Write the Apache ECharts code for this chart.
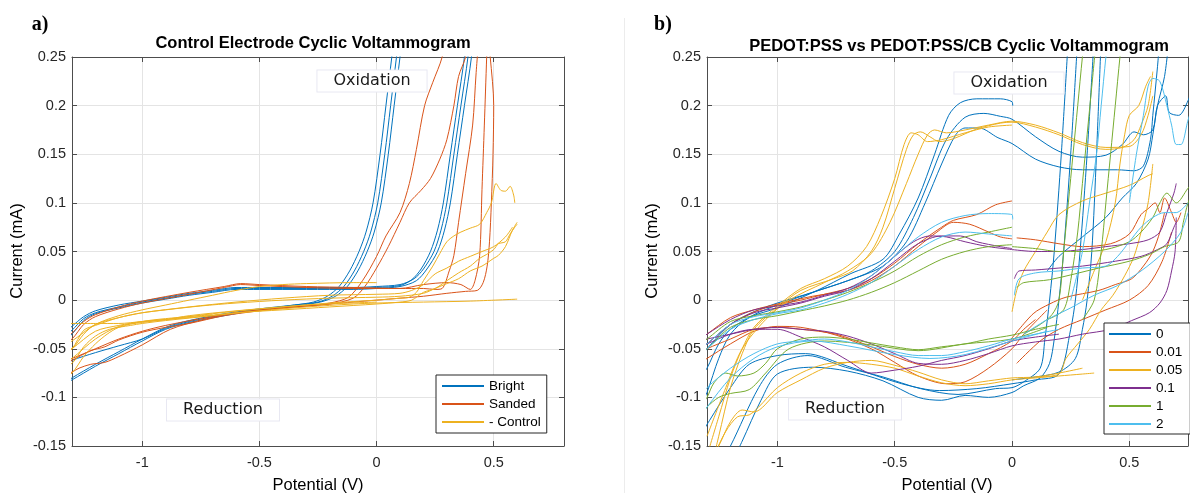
<!DOCTYPE html>
<html><head><meta charset="utf-8">
<script src="https://cdn.jsdelivr.net/npm/echarts@6/dist/echarts.min.js"></script>
<style>html,body{margin:0;padding:0;background:#fff}#c{width:1190px;height:493px}</style>
</head><body><div id="c"></div>
<script>
// ---------- ticks ----------
const xTicks = [-1, -0.5, 0, 0.5];
const yMin = -0.15, yMax = 0.25, yStep = 0.05;
const xRangeA = [-1.3, 0.8];
const xRangeB = [-1.3, 0.75];

// ---------- Panel a) : Control Electrode ----------
const namesA = ['Bright', 'Sanded', '- Control'];
const colorsA = ['#0072BD', '#D95319', '#EDB120'];

const brightTraces = [
 [0.1,0.28, 0.085,0.25, 0.06,0.2, 0.035,0.15, 0.005,0.1, -0.025,0.07, -0.055,0.05, -0.095,0.03, -0.14,0.014, -0.19,0.004, -0.25,-0.002, -0.35,-0.005, -0.5,-0.009, -0.65,-0.014, -0.8,-0.021, -0.9,-0.028, -1.0,-0.04, -1.1,-0.053, -1.2,-0.066, -1.3,-0.08, -1.36,-0.09, -1.36,-0.045, -1.3,-0.031, -1.25,-0.019, -1.2,-0.013, -1.1,-0.007, -1.0,-0.002, -0.9,0.002, -0.8,0.006, -0.7,0.009, -0.6,0.012, -0.5,0.012, -0.3,0.012, -0.1,0.012, 0.0,0.013, 0.1,0.015, 0.15,0.021, 0.19,0.032, 0.23,0.05, 0.26,0.072, 0.285,0.1, 0.315,0.15, 0.345,0.2, 0.375,0.25, 0.385,0.28],
 [0.08,0.28, 0.065,0.25, 0.04,0.2, 0.015,0.15, -0.015,0.1, -0.045,0.07, -0.075,0.05, -0.115,0.03, -0.16,0.014, -0.21,0.004, -0.27,-0.002, -0.35,-0.005, -0.5,-0.01, -0.65,-0.015, -0.8,-0.022, -0.9,-0.029, -1.0,-0.04, -1.1,-0.047, -1.2,-0.054, -1.3,-0.062, -1.36,-0.07, -1.36,-0.04, -1.3,-0.027, -1.25,-0.017, -1.2,-0.011, -1.1,-0.005, -1.0,-0.001, -0.9,0.003, -0.8,0.007, -0.7,0.01, -0.6,0.013, -0.5,0.013, -0.3,0.013, -0.1,0.013, 0.0,0.014, 0.1,0.016, 0.16,0.022, 0.2,0.032, 0.245,0.05, 0.275,0.072, 0.3,0.1, 0.33,0.15, 0.36,0.2, 0.39,0.25, 0.4,0.28],
 [0.115,0.28, 0.1,0.25, 0.075,0.2, 0.05,0.15, 0.02,0.1, -0.01,0.07, -0.04,0.05, -0.08,0.03, -0.125,0.014, -0.175,0.004, -0.24,-0.002, -0.35,-0.006, -0.5,-0.01, -0.65,-0.016, -0.8,-0.023, -0.9,-0.03, -1.0,-0.042, -1.1,-0.055, -1.2,-0.068, -1.3,-0.082, -1.36,-0.09, -1.36,-0.05, -1.3,-0.035, -1.25,-0.021, -1.2,-0.014, -1.1,-0.008, -1.0,-0.003, -0.9,0.001, -0.8,0.005, -0.7,0.008, -0.6,0.011, -0.5,0.011, -0.3,0.011, -0.1,0.011, 0.0,0.012, 0.1,0.014, 0.17,0.02, 0.215,0.032, 0.26,0.05, 0.29,0.072, 0.315,0.1, 0.345,0.15, 0.375,0.2, 0.405,0.25, 0.415,0.28]
];
const sandedTraces = [
 [0.3,0.28, 0.28,0.25, 0.24,0.224, 0.205,0.2, 0.17,0.155, 0.14,0.12, 0.1,0.09, 0.04,0.066, 0.0,0.045, -0.06,0.02, -0.12,0.003, -0.2,-0.003, -0.3,-0.006, -0.45,-0.009, -0.6,-0.013, -0.74,-0.02, -0.88,-0.03, -1.0,-0.046, -1.1,-0.058, -1.16,-0.064, -1.22,-0.066, -1.27,-0.07, -1.3,-0.074, -1.36,-0.08, -1.36,-0.05, -1.3,-0.04, -1.25,-0.025, -1.2,-0.017, -1.1,-0.009, -1.0,-0.003, -0.8,0.006, -0.65,0.013, -0.58,0.016, -0.5,0.015, -0.3,0.013, -0.1,0.012, 0.1,0.012, 0.2,0.012, 0.25,0.011, 0.28,0.012, 0.31,0.03, 0.33,0.046, 0.35,0.08, 0.38,0.13, 0.41,0.18, 0.425,0.234, 0.44,0.28],
 [0.4,0.28, 0.38,0.25, 0.35,0.23, 0.33,0.2, 0.3,0.165, 0.27,0.145, 0.23,0.125, 0.19,0.113, 0.14,0.1, 0.1,0.08, 0.05,0.055, 0.0,0.033, -0.05,0.014, -0.1,0.002, -0.2,-0.004, -0.35,-0.007, -0.5,-0.011, -0.65,-0.016, -0.8,-0.024, -0.9,-0.028, -1.0,-0.033, -1.1,-0.041, -1.16,-0.048, -1.22,-0.052, -1.3,-0.062, -1.36,-0.07, -1.36,-0.045, -1.3,-0.034, -1.25,-0.022, -1.2,-0.015, -1.1,-0.007, -1.0,-0.001, -0.8,0.008, -0.65,0.014, -0.58,0.017, -0.5,0.016, -0.3,0.014, -0.1,0.013, 0.1,0.012, 0.2,0.016, 0.3,0.018, 0.36,0.016, 0.4,0.011, 0.42,0.02, 0.44,0.046, 0.45,0.114, 0.46,0.18, 0.47,0.25, 0.475,0.28],
 [0.47,0.28, 0.485,0.25, 0.5,0.2, 0.497,0.15, 0.49,0.1, 0.482,0.06, 0.472,0.035, 0.455,0.018, 0.43,0.01, 0.38,0.009, 0.3,0.007, 0.2,0.004, 0.1,0.002, 0.0,0.0, -0.1,-0.002, -0.2,-0.004, -0.4,-0.008, -0.6,-0.013, -0.75,-0.019, -0.9,-0.026, -1.0,-0.032, -1.1,-0.04, -1.2,-0.05, -1.3,-0.06, -1.36,-0.065]
];
const controlTraces = [
 [0.59,0.1, 0.585,0.108, 0.57,0.117, 0.55,0.112, 0.53,0.113, 0.51,0.12, 0.49,0.1, 0.47,0.09, 0.44,0.078, 0.4,0.074, 0.36,0.07, 0.33,0.066, 0.3,0.06, 0.27,0.048, 0.24,0.035, 0.2,0.02, 0.17,0.008, 0.14,0.003, 0.1,0.002, 0,0.0, -0.2,-0.003, -0.4,-0.007, -0.6,-0.011, -0.8,-0.016, -0.9,-0.02, -1.0,-0.023, -1.1,-0.027, -1.2,-0.04, -1.3,-0.06, -1.36,-0.07],
 [0.6,0.078, 0.59,0.075, 0.57,0.068, 0.55,0.06, 0.52,0.058, 0.5,0.052, 0.47,0.047, 0.44,0.043, 0.4,0.035, 0.35,0.028, 0.3,0.02, 0.25,0.012, 0.2,0.008, 0.15,0.0, 0.1,-0.002, 0.0,-0.004, -0.2,-0.007, -0.4,-0.01, -0.6,-0.013, -0.8,-0.018, -1.0,-0.022, -1.1,-0.026, -1.2,-0.032, -1.3,-0.05, -1.36,-0.06],
 [0.6,0.08, 0.58,0.072, 0.55,0.055, 0.52,0.046, 0.5,0.043, 0.45,0.035, 0.4,0.03, 0.35,0.022, 0.3,0.017, 0.25,0.012, 0.2,0.007, 0.1,0.004, 0.0,0.003, -0.2,0.002, -0.4,0.0, -0.6,-0.003, -0.75,-0.006, -0.9,-0.01, -1.0,-0.013, -1.1,-0.018, -1.2,-0.026, -1.25,-0.031, -1.3,-0.05, -1.36,-0.06],
 [-1.36,-0.07, -1.3,-0.065, -1.25,-0.048, -1.2,-0.037, -1.14,-0.03, -1.05,-0.026, -1.0,-0.024, -0.9,-0.021, -0.7,-0.016, -0.5,-0.011, -0.3,-0.007, -0.1,-0.004, 0.0,-0.003, 0.2,-0.002, 0.4,-0.001, 0.6,0.001],
 [-1.36,-0.05, -1.3,-0.042, -1.2,-0.025, -1.1,-0.016, -1.0,-0.01, -0.9,-0.005, -0.8,0.0, -0.7,0.005, -0.6,0.01, -0.5,0.014, -0.4,0.016, -0.3,0.017, -0.1,0.018, 0.0,0.018],
 [-1.36,-0.024, -1.2,-0.024, -1.1,-0.024, -1.0,-0.022, -0.9,-0.02, -0.7,-0.014, -0.5,-0.009, -0.3,-0.005, 0.0,-0.002],
 [-1.36,-0.085, -1.3,-0.075, -1.25,-0.058, -1.2,-0.045, -1.15,-0.035, -1.1,-0.028, -1.0,-0.022, -0.9,-0.019, -0.7,-0.015],
 [-1.36,-0.055, -1.3,-0.05, -1.25,-0.035, -1.2,-0.025, -1.1,-0.018, -1.0,-0.013, -0.8,-0.007, -0.6,-0.002, -0.4,0.002, -0.2,0.005, 0,0.006, 0.1,0.007, 0.15,0.01, 0.2,0.016, 0.25,0.027, 0.3,0.033, 0.35,0.04, 0.4,0.045, 0.45,0.05, 0.5,0.055, 0.55,0.065, 0.58,0.075]
];

// ---------- Panel b) : PEDOT:PSS vs PEDOT:PSS/CB ----------
const namesB = ['0', '0.01', '0.05', '0.1', '1', '2'];
const colorsB = ['#0072BD', '#D95319', '#EDB120', '#7E2F8E', '#77AC30', '#4DBEEE'];

const cb0Traces = [
 [0.28,0.27, 0.25,0.15, 0.22,0.05, 0.2,0.0, 0.18,-0.04, 0.16,-0.065, 0.12,-0.08, 0.05,-0.088, 0,-0.095, -0.1,-0.1, -0.2,-0.098, -0.3,-0.103, -0.4,-0.1, -0.55,-0.083, -0.7,-0.073, -0.85,-0.069, -1.0,-0.076, -1.07,-0.103, -1.15,-0.145, -1.2,-0.17],
 [0.24,0.27, 0.21,0.15, 0.18,0.05, 0.16,0.0, 0.14,-0.04, 0.12,-0.07, 0.05,-0.084, 0,-0.09, -0.07,-0.091, -0.23,-0.097, -0.39,-0.091, -0.55,-0.079, -0.71,-0.069, -0.87,-0.057, -1.0,-0.066, -1.08,-0.09, -1.2,-0.15, -1.25,-0.17],
 [0.35,0.27, 0.32,0.15, 0.29,0.05, 0.27,0.0, 0.25,-0.03, 0.2,-0.076, 0.1,-0.082, 0,-0.086, -0.15,-0.091, -0.31,-0.093, -0.47,-0.086, -0.7,-0.068, -0.88,-0.055, -1.0,-0.057, -1.12,-0.066, -1.2,-0.09, -1.29,-0.124, -1.33,-0.14],
 [0.38,0.27, 0.36,0.15, 0.34,0.05, 0.32,0.0, 0.3,-0.03, 0.27,-0.06, 0.2,-0.074, 0.1,-0.079, 0,-0.082],
 [-1.33,-0.11, -1.3,-0.095, -1.25,-0.06, -1.2,-0.035, -1.12,-0.018, -1.0,-0.008, -0.83,0.01, -0.69,0.027, -0.55,0.042, -0.48,0.068, -0.4,0.105, -0.33,0.15, -0.27,0.19, -0.22,0.203, -0.15,0.207, -0.05,0.207, 0,0.204, 0.003,0.2],
 [-1.33,-0.08, -1.3,-0.07, -1.25,-0.045, -1.2,-0.03, -1.1,-0.015, -1.0,-0.005, -0.85,0.008, -0.7,0.02, -0.6,0.03, -0.5,0.05, -0.42,0.085, -0.35,0.125, -0.28,0.165, -0.2,0.188, -0.12,0.192, -0.05,0.189, 0,0.186, 0.1,0.168, 0.2,0.153, 0.3,0.147, 0.4,0.149, 0.47,0.16, 0.52,0.173, 0.56,0.17, 0.6,0.175, 0.62,0.2, 0.655,0.21, 0.67,0.193, 0.71,0.19, 0.75,0.205, 0.77,0.22],
 [-1.33,-0.06, -1.3,-0.05, -1.2,-0.025, -1.1,-0.012, -1.0,-0.003, -0.85,0.008, -0.7,0.02, -0.55,0.035, -0.45,0.06, -0.37,0.1, -0.3,0.14, -0.24,0.17, -0.2,0.177, -0.14,0.177, -0.06,0.167, 0,0.161, 0.1,0.145, 0.2,0.137, 0.3,0.134, 0.45,0.134, 0.52,0.133, 0.56,0.138, 0.59,0.165, 0.6,0.19, 0.62,0.24, 0.63,0.27],
 [0.15,0.03, 0.2,0.045, 0.3,0.065, 0.4,0.085, 0.47,0.105, 0.53,0.12, 0.58,0.145, 0.6,0.17, 0.62,0.2, 0.65,0.23, 0.67,0.27]
];
const cb001Traces = [
 [-1.33,-0.05, -1.3,-0.045, -1.2,-0.025, -1.1,-0.012, -1.0,-0.005, -0.9,0.0, -0.8,0.006, -0.7,0.012, -0.6,0.022, -0.5,0.038, -0.4,0.058, -0.3,0.075, -0.25,0.082, -0.15,0.088, -0.07,0.098, 0,0.102],
 [-1.33,-0.04, -1.3,-0.035, -1.2,-0.018, -1.1,-0.01, -1.0,-0.004, -0.85,0.004, -0.7,0.01, -0.6,0.02, -0.5,0.035, -0.4,0.055, -0.32,0.07, -0.25,0.08, -0.18,0.078, -0.1,0.07, -0.05,0.065, 0,0.063],
 [0.1,-0.02, 0.05,-0.03, 0,-0.042, -0.1,-0.055, -0.2,-0.066, -0.3,-0.07, -0.4,-0.066, -0.5,-0.058, -0.6,-0.048, -0.75,-0.035, -0.9,-0.03, -1.0,-0.028, -1.1,-0.03, -1.2,-0.04, -1.3,-0.05, -1.33,-0.055],
 [0.15,-0.01, 0.05,-0.035, 0,-0.05, -0.1,-0.07, -0.2,-0.084, -0.28,-0.086, -0.4,-0.078, -0.5,-0.064, -0.6,-0.05, -0.75,-0.036, -0.9,-0.028, -1.0,-0.027, -1.1,-0.032, -1.2,-0.045, -1.3,-0.06, -1.33,-0.065],
 [0.02,0.064, 0.1,0.062, 0.2,0.058, 0.3,0.055, 0.42,0.058, 0.5,0.068, 0.55,0.088, 0.58,0.094, 0.61,0.1, 0.63,0.09, 0.65,0.105, 0.68,0.09, 0.7,0.08, 0.72,0.09],
 [-0.01,-0.042, 0.09,-0.014, 0.16,-0.004, 0.23,0.003, 0.37,0.01, 0.44,0.016, 0.51,0.022, 0.56,0.035, 0.6,0.05, 0.63,0.07, 0.65,0.09],
 [0.02,-0.065, 0.12,-0.042, 0.2,-0.03, 0.3,-0.02, 0.4,-0.01, 0.5,0.0, 0.58,0.015, 0.64,0.04, 0.68,0.07]
];
const cb005Traces = [
 [-1.28,-0.17, -1.25,-0.14, -1.2,-0.09, -1.15,-0.055, -1.1,-0.03, -1.0,-0.008, -0.9,0.01, -0.76,0.022, -0.68,0.03, -0.6,0.05, -0.55,0.075, -0.5,0.115, -0.45,0.155, -0.42,0.17, -0.39,0.173, -0.35,0.168, -0.31,0.163, -0.25,0.166, -0.15,0.176, -0.05,0.182, 0,0.183, 0.1,0.178, 0.2,0.17, 0.3,0.16, 0.4,0.155, 0.47,0.157, 0.52,0.165, 0.55,0.18, 0.58,0.2, 0.6,0.235],
 [-1.3,-0.16, -1.25,-0.12, -1.2,-0.08, -1.15,-0.05, -1.1,-0.028, -1.0,-0.006, -0.9,0.012, -0.8,0.022, -0.7,0.035, -0.62,0.055, -0.56,0.085, -0.5,0.125, -0.46,0.16, -0.43,0.172, -0.4,0.17, -0.36,0.163, -0.3,0.165, -0.2,0.172, -0.1,0.178, 0,0.18],
 [-1.3,-0.14, -1.22,-0.09, -1.15,-0.05, -1.05,-0.02, -0.95,0.0, -0.8,0.018, -0.7,0.03, -0.6,0.048, -0.52,0.08, -0.45,0.12, -0.4,0.15, -0.36,0.17, -0.33,0.175, -0.28,0.172, -0.2,0.175, -0.1,0.18, 0,0.184, 0.1,0.18, 0.2,0.172, 0.3,0.162, 0.4,0.157, 0.5,0.158, 0.55,0.17, 0.58,0.19, 0.6,0.21],
 [0.35,-0.075, 0.3,-0.076, 0.2,-0.078, 0.1,-0.08, 0,-0.082, -0.1,-0.086, -0.2,-0.088, -0.3,-0.085, -0.4,-0.078, -0.5,-0.07, -0.6,-0.066, -0.7,-0.064, -0.8,-0.066, -0.9,-0.075, -1.0,-0.09, -1.08,-0.11, -1.12,-0.118, -1.17,-0.12, -1.22,-0.135, -1.27,-0.16, -1.3,-0.18],
 [0.3,-0.07, 0.2,-0.075, 0.1,-0.079, 0,-0.08, -0.1,-0.083, -0.2,-0.086, -0.3,-0.082, -0.4,-0.074, -0.5,-0.067, -0.6,-0.062, -0.7,-0.064, -0.8,-0.07, -0.9,-0.082, -1.0,-0.095, -1.1,-0.115, -1.15,-0.113, -1.2,-0.125, -1.25,-0.15, -1.3,-0.17],
 [0.0,-0.012, 0.02,0.01, 0.05,0.03, 0.1,0.05, 0.15,0.07, 0.2,0.088, 0.3,0.102, 0.4,0.11, 0.5,0.118, 0.58,0.128, 0.6,0.13],
 [0.1,-0.079, 0.2,-0.076, 0.23,-0.06, 0.28,-0.045, 0.33,-0.03, 0.38,-0.01, 0.43,0.005, 0.48,0.025, 0.52,0.045, 0.55,0.07, 0.58,0.1, 0.6,0.14],
 [0.3,0.0, 0.35,0.03, 0.4,0.06, 0.44,0.1, 0.46,0.14, 0.48,0.17, 0.5,0.19, 0.54,0.2, 0.57,0.22, 0.59,0.23]
];
const cb01Traces = [
 [-1.33,-0.04, -1.3,-0.035, -1.2,-0.02, -1.1,-0.01, -1.0,-0.006, -0.9,-0.002, -0.8,0.005, -0.7,0.012, -0.6,0.025, -0.5,0.045, -0.42,0.06, -0.35,0.066, -0.28,0.065, -0.2,0.06, -0.1,0.055, 0,0.052],
 [-1.33,-0.05, -1.3,-0.045, -1.2,-0.025, -1.1,-0.013, -1.0,-0.008, -0.9,-0.003, -0.8,0.004, -0.7,0.01, -0.6,0.022, -0.5,0.04, -0.4,0.058, -0.3,0.066, -0.22,0.066, -0.15,0.06, -0.05,0.055, 0,0.053],
 [0.7,0.085, 0.695,0.05, 0.68,0.03, 0.66,0.01, 0.63,-0.003, 0.585,-0.013, 0.51,-0.021, 0.42,-0.03, 0.3,-0.035, 0.2,-0.04, 0.1,-0.043, 0,-0.047, -0.1,-0.055, -0.2,-0.062, -0.3,-0.066, -0.4,-0.065, -0.5,-0.055, -0.6,-0.045, -0.7,-0.037, -0.8,-0.032, -0.9,-0.03, -1.0,-0.028, -1.1,-0.03, -1.2,-0.035, -1.3,-0.04, -1.33,-0.042],
 [0.2,-0.035, 0.1,-0.038, 0,-0.042, -0.1,-0.05, -0.2,-0.057, -0.3,-0.062, -0.4,-0.068, -0.5,-0.072, -0.6,-0.075, -0.7,-0.062, -0.8,-0.048, -0.9,-0.038, -1.0,-0.03, -1.1,-0.03, -1.2,-0.035, -1.3,-0.045, -1.33,-0.048],
 [0.01,0.022, 0.03,0.03, 0.1,0.031, 0.2,0.033, 0.3,0.035, 0.44,0.04, 0.55,0.045, 0.62,0.052, 0.66,0.058, 0.69,0.075, 0.7,0.08],
 [0.0,0.052, 0.1,0.05, 0.2,0.05, 0.3,0.052, 0.4,0.055, 0.5,0.058, 0.58,0.062, 0.63,0.07, 0.66,0.09, 0.69,0.11, 0.7,0.12]
];
const cb1Traces = [
 [-1.33,-0.055, -1.3,-0.05, -1.2,-0.028, -1.1,-0.02, -1.0,-0.016, -0.9,-0.011, -0.8,-0.006, -0.7,0.0, -0.6,0.008, -0.5,0.018, -0.4,0.03, -0.3,0.042, -0.2,0.05, -0.1,0.055, 0,0.057],
 [-1.33,-0.045, -1.3,-0.04, -1.2,-0.022, -1.1,-0.016, -1.0,-0.012, -0.9,-0.007, -0.8,0.0, -0.7,0.008, -0.6,0.018, -0.5,0.03, -0.4,0.045, -0.3,0.057, -0.2,0.065, -0.1,0.07, 0,0.075],
 [0.2,-0.025, 0.1,-0.03, 0,-0.036, -0.1,-0.04, -0.2,-0.045, -0.3,-0.048, -0.4,-0.051, -0.5,-0.048, -0.6,-0.044, -0.7,-0.04, -0.8,-0.038, -0.9,-0.04, -1.0,-0.05, -1.05,-0.065, -1.1,-0.075, -1.17,-0.078, -1.22,-0.075, -1.27,-0.085, -1.3,-0.1, -1.33,-0.11],
 [0.15,-0.028, 0,-0.04, -0.2,-0.045, -0.4,-0.052, -0.6,-0.046, -0.8,-0.042, -0.95,-0.05, -1.05,-0.075, -1.12,-0.092, -1.2,-0.096, -1.25,-0.1, -1.3,-0.11, -1.33,-0.12],
 [0.05,-0.035, 0.12,-0.025, 0.17,-0.015, 0.2,0.0, 0.22,0.05, 0.24,0.1, 0.26,0.15, 0.28,0.2, 0.3,0.25, 0.31,0.27],
 [0.15,-0.02, 0.22,-0.01, 0.25,0.02, 0.28,0.07, 0.3,0.12, 0.32,0.17, 0.34,0.22, 0.36,0.27],
 [0.3,-0.02, 0.35,0.0, 0.38,0.05, 0.4,0.1, 0.42,0.15, 0.44,0.2, 0.46,0.25, 0.47,0.27],
 [0.0,0.055, 0.1,0.053, 0.2,0.05, 0.3,0.05, 0.4,0.052, 0.5,0.06, 0.55,0.07, 0.6,0.085, 0.63,0.1, 0.66,0.11, 0.7,0.1, 0.75,0.115, 0.77,0.12],
 [0.02,0.013, 0.05,0.018, 0.16,0.021, 0.37,0.033, 0.5,0.04, 0.585,0.047, 0.65,0.055, 0.71,0.06, 0.73,0.08, 0.75,0.1, 0.77,0.11]
];
const cb2Traces = [
 [-1.33,-0.05, -1.3,-0.045, -1.2,-0.025, -1.1,-0.017, -1.0,-0.013, -0.9,-0.008, -0.8,0.0, -0.7,0.01, -0.6,0.025, -0.5,0.045, -0.4,0.065, -0.3,0.08, -0.2,0.087, -0.1,0.089, 0,0.088, 0.003,0.083],
 [-1.33,-0.055, -1.3,-0.05, -1.2,-0.03, -1.1,-0.02, -1.0,-0.014, -0.9,-0.01, -0.8,-0.003, -0.7,0.006, -0.6,0.018, -0.5,0.035, -0.4,0.052, -0.3,0.065, -0.2,0.07, -0.1,0.068, 0,0.066],
 [0.2,-0.03, 0.1,-0.035, 0,-0.04, -0.1,-0.047, -0.2,-0.053, -0.3,-0.057, -0.4,-0.057, -0.5,-0.053, -0.6,-0.048, -0.7,-0.043, -0.8,-0.04, -0.9,-0.042, -1.0,-0.045, -1.1,-0.055, -1.2,-0.07, -1.3,-0.09, -1.33,-0.1],
 [0.15,-0.032, 0,-0.042, -0.2,-0.056, -0.35,-0.06, -0.5,-0.056, -0.7,-0.047, -0.85,-0.042, -1.0,-0.048, -1.1,-0.06, -1.2,-0.08, -1.3,-0.11, -1.33,-0.12],
 [0.01,0.005, 0.03,0.022, 0.1,0.028, 0.2,0.03, 0.3,0.033, 0.4,0.035, 0.45,0.045, 0.5,0.06, 0.55,0.075, 0.6,0.085, 0.65,0.09, 0.7,0.09, 0.75,0.1],
 [0.25,0.0, 0.3,0.05, 0.33,0.1, 0.36,0.15, 0.38,0.2, 0.4,0.25, 0.41,0.27],
 [0.5,0.1, 0.53,0.15, 0.56,0.19, 0.58,0.22, 0.6,0.228, 0.63,0.225, 0.66,0.2, 0.68,0.18, 0.7,0.16, 0.72,0.16, 0.75,0.185, 0.77,0.2],
 [0.05,-0.035, 0.15,-0.02, 0.25,-0.008, 0.35,0.005, 0.45,0.015, 0.55,0.03, 0.65,0.05, 0.72,0.07, 0.75,0.09]
];
const tracesB = [cb0Traces, cb001Traces, cb005Traces, cb01Traces, cb1Traces, cb2Traces];
const tracesA = [brightTraces, sandedTraces, controlTraces];

// ---------- build ----------
const FONT = '"Liberation Sans", Arial, Helvetica, sans-serif';
const TXT = '#262626';
function pairs(flat){ const out=[]; for(let i=0;i<flat.length;i+=2) out.push([flat[i],flat[i+1]]); return out; }
function mk(name, color, traces, axisIdx){
  return traces.map(t => ({
    name, type:'line', xAxisIndex:axisIdx, yAxisIndex:axisIdx, data:pairs(t),
    showSymbol:false, symbol:'none', smooth:0.3, clip:true, silent:true,
    lineStyle:{width:1, color}, itemStyle:{color}, emphasis:{disabled:true}
  }));
}
const series = [];
namesA.forEach((n,i)=>series.push(...mk(n, colorsA[i], tracesA[i], 0)));
namesB.forEach((n,i)=>series.push(...mk(n, colorsB[i], tracesB[i], 2)));

function xAx(grid, range, top){
  return {type:'value', gridIndex:grid, min:range[0], max:range[1], position: top?'top':'bottom',
    axisLine:{show:true, onZero:false, lineStyle:{color:'#4d4d4d', width:1}},
    axisTick:{show:true, inside:true, length:5, customValues:xTicks, lineStyle:{color:'#4d4d4d'}},
    axisLabel:{show:!top, customValues:xTicks, color:TXT, fontSize:14.5, fontFamily:FONT, margin:9},
    splitLine:{show:!top, lineStyle:{color:'#e4e4e4', width:1}}};
}
function yAx(grid, right){
  return {type:'value', gridIndex:grid, min:yMin, max:yMax, interval:yStep, position: right?'right':'left',
    axisLine:{show:true, onZero:false, lineStyle:{color:'#4d4d4d', width:1}},
    axisTick:{show:true, inside:true, length:5, lineStyle:{color:'#4d4d4d'}},
    axisLabel:{show:!right, color:TXT, fontSize:14.5, fontFamily:FONT, margin:6},
    splitLine:{show:!right, lineStyle:{color:'#e4e4e4', width:1}}};
}

function boxText(text, x, y){
  return {type:'text', x, y, z:100, style:{text, font:'16px "DejaVu Sans", sans-serif', fill:'#1a1a1a',
    align:'center', verticalAlign:'middle', backgroundColor:'#fff', borderColor:'#e8e8f2', borderWidth:1, padding:[3,16,2,16]}};
}
function plainText(text, x, y, font, rot){
  return {type:'text', x, y, rotation:rot||0, z:100, style:{text, font, fill:'#000', align:'center', verticalAlign:'middle'}};
}

const option = {
  animation:false,
  backgroundColor:'#fff',
  grid:[
    {left:72, top:57, width:492, height:389, show:false},
    {left:707, top:57, width:481, height:389, show:false}
  ],
  xAxis:[xAx(0,xRangeA,false), xAx(0,xRangeA,true), xAx(1,xRangeB,false), xAx(1,xRangeB,true)],
  yAxis:[yAx(0,false), yAx(0,true), yAx(1,false), yAx(1,true)],
  legend:[
    {data:namesA, orient:'vertical', left:436, top:375, itemWidth:42, itemHeight:2, icon:'rect', itemGap:4,
     padding:[4,6,4,6], borderColor:'#262626', borderWidth:1, backgroundColor:'#fff', borderRadius:0,
     textStyle:{fontSize:13.5, fontFamily:FONT, color:'#000'}, selectedMode:false, z:50},
    {data:namesB, orient:'vertical', left:1104, top:323, itemWidth:42, itemHeight:2, icon:'rect', itemGap:4,
     padding:[4,8,3,5], borderColor:'#262626', borderWidth:1, backgroundColor:'#fff', borderRadius:0,
     textStyle:{fontSize:13.5, fontFamily:FONT, color:'#000'}, selectedMode:false, z:50}
  ],
  graphic:[
    {type:'line', z:1, shape:{x1:624.5, y1:18, x2:624.5, y2:493}, style:{stroke:'#ececec', lineWidth:1}},
    plainText('a)', 40, 25, 'bold 20px "Liberation Serif", "Times New Roman", serif'),
    plainText('b)', 663, 25, 'bold 20px "Liberation Serif", "Times New Roman", serif'),
    plainText('Control Electrode Cyclic Voltammogram', 313, 43, 'bold 16.5px ' + FONT),
    plainText('PEDOT:PSS vs PEDOT:PSS/CB Cyclic Voltammogram', 959, 46, 'bold 16.5px ' + FONT),
    plainText('Current (mA)', 17, 251, '16.5px ' + FONT, Math.PI/2),
    plainText('Current (mA)', 652, 251, '16.5px ' + FONT, Math.PI/2),
    plainText('Potential (V)', 318, 485, '16.5px ' + FONT),
    plainText('Potential (V)', 947, 485, '16.5px ' + FONT),
    boxText('Oxidation', 372, 81),
    boxText('Reduction', 223, 410),
    boxText('Oxidation', 1009, 83),
    boxText('Reduction', 845, 409)
  ],
  series
};
const chart = echarts.init(document.getElementById('c'), null, {renderer:'canvas'});
chart.setOption(option);
</script>
</body></html>
